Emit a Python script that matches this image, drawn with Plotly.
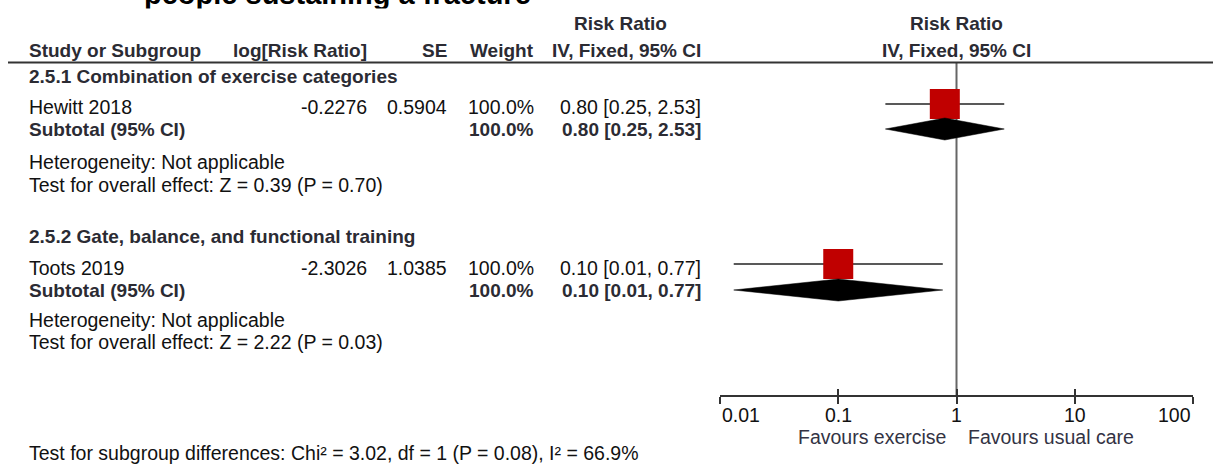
import math
import plotly.graph_objects as go

W, H = 1213, 464

# ---------------- data ----------------
title = "people sustaining a fracture"
subgroups = ["2.5.1 Combination of exercise categories",
             "2.5.2 Gate, balance, and functional training"]
studies = ["Hewitt 2018", "Toots 2019"]
log_rr = [-0.2276, -2.3026]
se = [0.5904, 1.0385]
weight = ["100.0%", "100.0%"]
rr_text = ["0.80 [0.25, 2.53]", "0.10 [0.01, 0.77]"]
subtotal_weight = ["100.0%", "100.0%"]
subtotal_text = ["0.80 [0.25, 2.53]", "0.10 [0.01, 0.77]"]
heterogeneity = ["Heterogeneity: Not applicable", "Heterogeneity: Not applicable"]
overall_effect = ["Test for overall effect: Z = 0.39 (P = 0.70)",
                  "Test for overall effect: Z = 2.22 (P = 0.03)"]
tick_vals = [0.01, 0.1, 1, 10, 100]
tick_labels = ["0.01", "0.1", "1", "10", "100"]
favours = ["Favours exercise", "Favours usual care"]
subgroup_test = "Test for subgroup differences: Chi\u00b2 = 3.02, df = 1 (P = 0.08), I\u00b2 = 66.9%"
col_headers = ["Study or Subgroup", "log[Risk Ratio]", "SE", "Weight", "IV, Fixed, 95% CI"]
rr_header = ["Risk Ratio", "IV, Fixed, 95% CI"]

# ---------------- layout (pixel positions) ----------------
FONT = "Liberation Sans, Arial, sans-serif"
REG = 19.5
BOLD = 19
TXT = "#111111"
BTXT = "#2b2b33"
col_x = dict(study=27, lrr=369, se=449, w=536, ci=703)
rows = [dict(head=76, study=106.5, mark=104, sub=129, het=161.5, test=185),
        dict(head=236.5, study=268, mark=264, sub=290, het=320, test=342)]
header_y = 50
header_top_y = 23.5
line_y = 62.5
axis_y = 396
ticklab_y = 414.5
fav_y = 436.5
bottom_y = 453
half_diamond = 11

fig = go.Figure()

# vertical line of no effect
fig.add_trace(go.Scatter(x=[1, 1], y=[line_y, axis_y], mode="lines",
                         line=dict(color="#666666", width=2), hoverinfo="skip"))

for i in range(len(studies)):
    lo = math.exp(log_rr[i] - 1.96 * se[i])
    hi = math.exp(log_rr[i] + 1.96 * se[i])
    est = math.exp(log_rr[i])
    r = rows[i]
    # CI line
    fig.add_trace(go.Scatter(x=[lo, hi], y=[r["mark"], r["mark"]], mode="lines",
                             line=dict(color="#222222", width=1.5), hoverinfo="skip"))
    # square
    fig.add_trace(go.Scatter(x=[est], y=[r["mark"]], mode="markers",
                             marker=dict(symbol="square", size=30, color="#c00000",
                                         line=dict(width=0)), hoverinfo="skip"))
    # subtotal diamond
    c = r["sub"]
    fig.add_trace(go.Scatter(x=[lo, est, hi, est, lo],
                             y=[c, c - half_diamond, c, c + half_diamond, c],
                             mode="lines", fill="toself", fillcolor="#000000",
                             line=dict(color="#000000", width=0.5), hoverinfo="skip"))

# invisible trace for overlay axis
fig.add_trace(go.Scatter(x=[1], y=[axis_y], xaxis="x2", mode="markers",
                         marker=dict(opacity=0), hoverinfo="skip"))

ann = []


def text(x, y, s, anchor="left", bold=False, size=None, color=None, xref="paper"):
    ann.append(dict(
        x=(x / W) if xref == "paper" else x, xref=xref,
        y=y, yref="y", xanchor=anchor, yanchor="middle",
        text=("<b>%s</b>" % s) if bold else s, showarrow=False,
        font=dict(family=FONT, size=size or (BOLD if bold else REG),
                  color=color or (BTXT if bold else TXT))))


# headers
text(col_x["study"], header_y, col_headers[0], bold=True)
text(col_x["lrr"], header_y, col_headers[1], anchor="right", bold=True)
text(col_x["se"], header_y, col_headers[2], anchor="right", bold=True)
text(col_x["w"], header_y, col_headers[3], anchor="right", bold=True)
text(col_x["ci"], header_y, col_headers[4], anchor="right", bold=True)
text(620, header_top_y, rr_header[0], anchor="center", bold=True)
text(math.log10(1), header_top_y, rr_header[0], anchor="center", bold=True, xref="x")
text(math.log10(1), header_y, rr_header[1], anchor="center", bold=True, xref="x")

for i in range(len(studies)):
    r = rows[i]
    text(col_x["study"], r["head"], subgroups[i], bold=True)
    text(col_x["study"], r["study"], studies[i])
    text(col_x["lrr"], r["study"], "%.4f" % log_rr[i], anchor="right")
    text(col_x["se"], r["study"], "%.4f" % se[i], anchor="right")
    text(col_x["w"], r["study"], weight[i], anchor="right")
    text(col_x["ci"], r["study"], rr_text[i], anchor="right")
    text(col_x["study"], r["sub"], "Subtotal (95% CI)", bold=True)
    text(col_x["w"], r["sub"], subtotal_weight[i], anchor="right", bold=True)
    text(col_x["ci"], r["sub"], subtotal_text[i], anchor="right", bold=True)
    text(col_x["study"], r["het"], heterogeneity[i])
    text(col_x["study"], r["test"], overall_effect[i])

# tick labels
for j, (v, lab) in enumerate(zip(tick_vals, tick_labels)):
    anchor = "left" if j == 0 else ("right" if j == len(tick_vals) - 1 else "center")
    text(math.log10(v), ticklab_y, lab, anchor=anchor, xref="x")

# favours labels
ann.append(dict(x=0, xref="x", y=fav_y, yref="y", xanchor="right", yanchor="middle",
                xshift=-9, text=favours[0], showarrow=False,
                font=dict(family=FONT, size=REG, color="#333344")))
ann.append(dict(x=0, xref="x", y=fav_y, yref="y", xanchor="left", yanchor="middle",
                xshift=9, text=favours[1], showarrow=False,
                font=dict(family=FONT, size=REG, color="#333344")))

text(col_x["study"], bottom_y, subgroup_test)

# clipped title at the very top (only its lower edge is visible, as in the reference)
ann.append(dict(x=142 / W, xref="paper", y=1 + 6.0 / H, yref="paper",
                xanchor="left", yanchor="middle", text="<b>%s</b>" % title,
                showarrow=False, font=dict(family=FONT, size=29, color="#000000")))
ann.append(dict(x=136 / W, xref="paper", y=1 - 8.5 / H, yref="paper",
                xanchor="left", yanchor="top", text=" ", width=404, height=14,
                bgcolor="#ffffff", borderpad=0, showarrow=False,
                font=dict(family=FONT, size=10)))

pos = 1 - axis_y / H
dom = [720 / W, 1193 / W]
fig.update_layout(
    width=W, height=H,
    margin=dict(l=0, r=0, t=0, b=0),
    paper_bgcolor="#ffffff", plot_bgcolor="#ffffff",
    showlegend=False,
    font=dict(family=FONT, size=REG, color=TXT),
    xaxis=dict(type="log", range=[-2, 2], domain=dom, anchor="free", position=pos,
               showline=True, linecolor="#333333", linewidth=2,
               ticks="outside", ticklen=7, tickwidth=2, tickcolor="#333333",
               tickvals=tick_vals, showticklabels=False, showgrid=False,
               zeroline=False, fixedrange=True),
    xaxis2=dict(type="log", range=[-2, 2], domain=dom, anchor="free", position=pos,
                overlaying="x", matches="x", showline=False,
                ticks="inside", ticklen=7, tickwidth=2, tickcolor="#333333",
                tickvals=tick_vals, showticklabels=False, showgrid=False,
                zeroline=False, fixedrange=True),
    yaxis=dict(range=[H, 0], domain=[0, 1], visible=False, fixedrange=True),
    annotations=ann,
    shapes=[dict(type="line", xref="paper", yref="y", x0=8 / W, x1=1,
                 y0=line_y, y1=line_y, line=dict(color="#333333", width=2))],
)

fig.write_html("out.html", config={"displayModeBar": False},
               post_script="document.body.style.margin='0';document.body.style.overflow='hidden';")
